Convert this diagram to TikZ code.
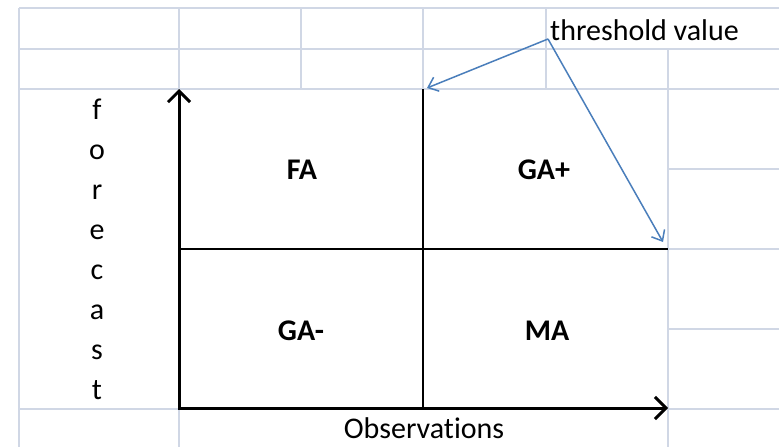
\documentclass[tikz,border=0pt]{standalone}
\usepackage{fontspec}
\setmainfont{Carlito}[Ligatures=NoCommon]
\usetikzlibrary{arrows.meta}
\definecolor{xlgrid}{RGB}{208,215,229}
\definecolor{xlblue}{RGB}{74,126,187}

\begin{document}
\begin{tikzpicture}[x=1pt, y=-1pt,
  gridln/.style={xlgrid, line width=1.5pt},
  axis/.style={{Straight Barb[length=11pt,width=22pt]}-{Straight Barb[length=11pt,width=22pt]},
               line width=3pt, black},
  divider/.style={line width=1.6pt, black},
  pointer/.style={-{Straight Barb[length=9pt,width=15pt]}, line width=1.5pt, xlblue},
  quad/.style={font=\fontsize{30}{36}\selectfont\bfseries},
  lab/.style={font=\fontsize{30}{36}\selectfont, inner sep=0pt}
]
\useasboundingbox[fill=white] (0,0) rectangle (779,447);
% sheet grid
\foreach \y in {8,49,89,409} \draw[gridln] (19,\y) -- (779,\y);
\foreach \y in {169,249,329} \draw[gridln] (668,\y) -- (779,\y);
\foreach \x in {179,301,423,546} \draw[gridln] (\x,8) -- (\x,89);
\draw[gridln] (19,8) -- (19,447);
\draw[gridln] (179,409) -- (179,447);
\draw[gridln] (668,49) -- (668,447);
% axes and threshold lines
\coordinate (orig) at (179,408);
\coordinate (ytop) at (179,89);
\coordinate (xend) at (668,408);
\coordinate (vtop) at (423,89);
\coordinate (vbot) at (423,408);
\coordinate (hleft) at (179,249);
\coordinate (hright) at (668,249);
\draw[divider] (vtop) -- (vbot);
\draw[divider] (hleft) -- (hright);
\draw[axis] (ytop) -- (orig) -- (xend);
% quadrants
\node[quad] (fa) at (302,170) {FA};
\node[quad] (gaplus) at (544,170) {GA+};
\node[quad] (gaminus) at (301,331) {GA-};
\node[quad] (ma) at (547,331) {MA};
% axis titles
\foreach \c [count=\i] in {f,o,r,e,c,a,s,t}
  \node[lab, anchor=base] (fc\i) at (97,79+40*\i) {\c};
\node[lab, anchor=base] (obs) at (424,438) {Observations};
% threshold callout
\node[lab, anchor=base west] (thr) at (550,40) {threshold value};
\coordinate (tv) at (548,39);
\coordinate (tvleft) at (427,88);
\coordinate (tvright) at (663,242);
\draw[pointer] (tv) -- (tvleft);
\draw[pointer] (tv) -- (tvright);
\end{tikzpicture}
\end{document}
